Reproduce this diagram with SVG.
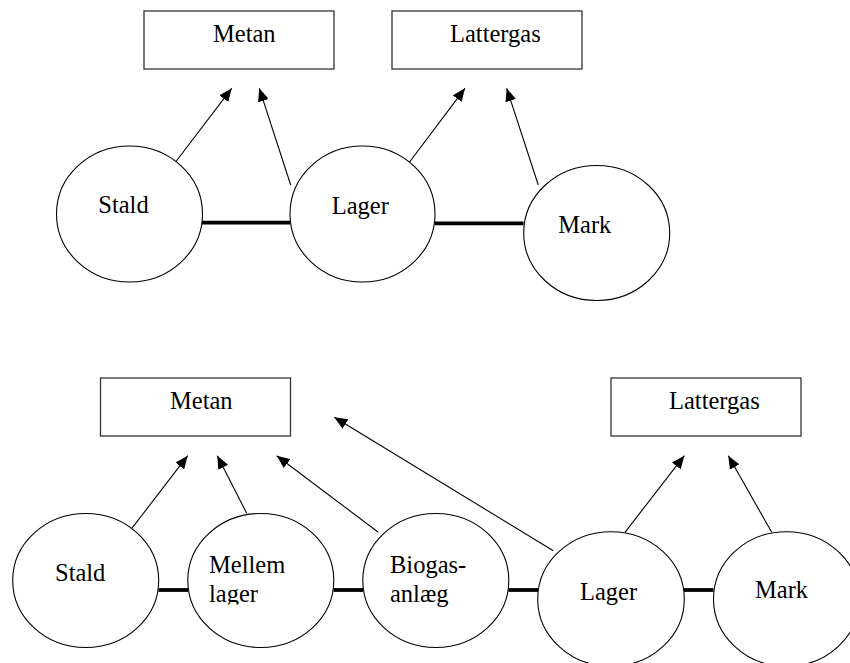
<svg xmlns="http://www.w3.org/2000/svg" width="850" height="663" viewBox="0 0 850 663">
<style>
.box{fill:#fff;stroke:#333;stroke-width:1.3}
.node{fill:#fff;stroke:#000;stroke-width:1.1}
.t{font-family:'Liberation Serif','DejaVu Serif',serif;font-size:24.5px;fill:#000}
.arr{stroke:#000;stroke-width:1.1;fill:none;marker-end:url(#ah)}
.link{stroke:#000;stroke-width:3.8;fill:none}
</style>
<defs>
<marker id="ah" markerUnits="userSpaceOnUse" markerWidth="13" markerHeight="11" refX="13" refY="5.5" orient="auto">
<path d="M0,0 L13,5.5 L0,11 z" fill="#000"/>
</marker>
<clipPath id="clipLager"><rect x="190" y="500" width="150" height="104.5"/></clipPath>
</defs>
<rect width="850" height="663" fill="#fff"/>
<g id="connectors">
<line class="link" x1="202" y1="222.7" x2="290" y2="222.7"/>
<line class="link" x1="435" y1="223.3" x2="523.5" y2="223.3"/>
<line class="arr" x1="173.3" y1="165" x2="231.7" y2="88.3"/>
<line class="arr" x1="290.7" y1="185" x2="259.3" y2="88.3"/>
<line class="arr" x1="407.3" y1="165" x2="465" y2="88.3"/>
<line class="arr" x1="538.3" y1="185" x2="506.7" y2="88.3"/>
<line class="link" x1="158.5" y1="590" x2="188" y2="590"/>
<line class="link" x1="333.5" y1="590" x2="363" y2="590"/>
<line class="link" x1="508.5" y1="590" x2="538" y2="590"/>
<line class="link" x1="684" y1="590" x2="713.5" y2="590"/>
<line class="arr" x1="129.3" y1="531.7" x2="187.7" y2="455.7"/>
<line class="arr" x1="246.7" y1="513.3" x2="217.3" y2="455.7"/>
<line class="arr" x1="378.3" y1="532.3" x2="276.7" y2="455.7"/>
<line class="arr" x1="553.3" y1="550.7" x2="334.3" y2="417.3"/>
<line class="arr" x1="625" y1="532.3" x2="684.3" y2="455.7"/>
<line class="arr" x1="771.7" y1="532.3" x2="728.3" y2="455.7"/>
</g>
<g id="metan1"><rect class="box" x="144" y="11" width="190" height="58"/><text class="t" font-family="Liberation Serif" x="213" y="42">Metan</text></g>
<g id="lattergas1"><rect class="box" x="392" y="11" width="190" height="58"/><text class="t" font-family="Liberation Serif" x="450" y="42">Lattergas</text></g>
<g id="stald1"><ellipse class="node" cx="129.5" cy="214" rx="73" ry="68"/><text class="t" font-family="Liberation Serif" x="98.3" y="213">Stald</text></g>
<g id="lager1"><ellipse class="node" cx="362.5" cy="214" rx="72.5" ry="68"/><text class="t" font-family="Liberation Serif" x="331.7" y="213.5">Lager</text></g>
<g id="mark1"><ellipse class="node" cx="596.7" cy="233" rx="73" ry="67.5"/><text class="t" font-family="Liberation Serif" x="558.3" y="233">Mark</text></g>
<g id="metan2"><rect class="box" x="100.5" y="378" width="190" height="58"/><text class="t" font-family="Liberation Serif" x="170" y="409">Metan</text></g>
<g id="lattergas2"><rect class="box" x="611" y="378" width="190" height="58"/><text class="t" font-family="Liberation Serif" x="669" y="409">Lattergas</text></g>
<g id="stald2"><ellipse class="node" cx="85.7" cy="580.5" rx="73" ry="67"/><text class="t" font-family="Liberation Serif" x="55" y="580.7">Stald</text></g>
<g id="mellemlager"><ellipse class="node" cx="260.8" cy="580.5" rx="73" ry="67"/><text class="t" font-family="Liberation Serif" x="209" y="573.3">Mellem</text><text class="t" font-family="Liberation Serif" x="209" y="601.7" clip-path="url(#clipLager)">lager</text></g>
<g id="biogas"><ellipse class="node" cx="435.8" cy="580.5" rx="73" ry="67"/><text class="t" font-family="Liberation Serif" x="390" y="573.3">Biogas-</text><text class="t" font-family="Liberation Serif" x="390" y="602">anlæg</text></g>
<g id="lager2"><ellipse class="node" cx="611" cy="599" rx="73.3" ry="67.3"/><text class="t" font-family="Liberation Serif" x="580" y="600">Lager</text></g>
<g id="mark2"><ellipse class="node" cx="786.5" cy="599" rx="73" ry="67.3"/><text class="t" font-family="Liberation Serif" x="755" y="598">Mark</text></g>
</svg>
